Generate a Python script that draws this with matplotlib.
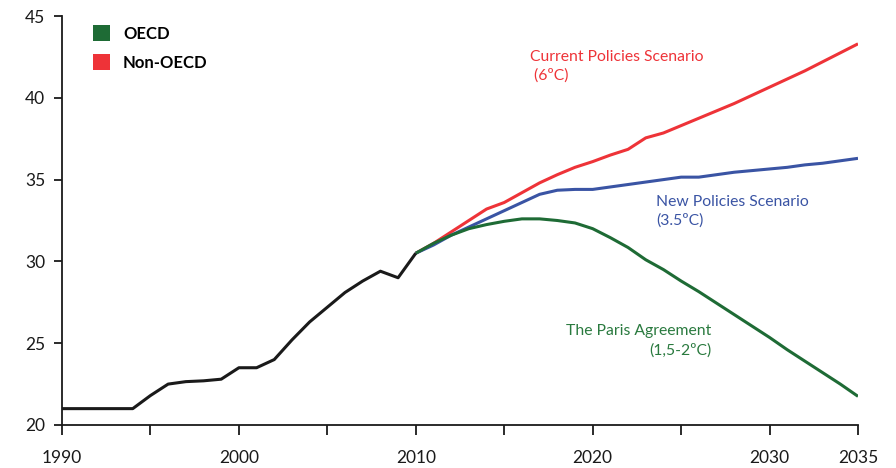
import matplotlib
matplotlib.use("Agg")
import matplotlib.pyplot as plt
from matplotlib.patches import Patch

plt.rcParams['font.family'] = ['Lato', 'DejaVu Sans']

# historical emissions
hist_years = [1990, 1991, 1992, 1993, 1994, 1995, 1996, 1997, 1998, 1999, 2000,
              2001, 2002, 2003, 2004, 2005, 2006, 2007, 2008, 2009, 2010]
hist_vals = [21.0, 21.0, 21.0, 21.0, 21.0, 21.8, 22.5, 22.65, 22.7, 22.8, 23.5,
             23.5, 24.0, 25.2, 26.3, 27.2, 28.1, 28.8, 29.4, 29.0, 30.5]

# scenarios 2010-2035
proj_years = list(range(2010, 2036))
current_policies = [30.5, 31.1, 31.8, 32.5, 33.2, 33.6, 34.2, 34.8, 35.3, 35.75,
                    36.1, 36.5, 36.85, 37.55, 37.85, 38.3, 38.75, 39.2, 39.65, 40.15,
                    40.65, 41.15, 41.65, 42.2, 42.75, 43.3]
new_policies = [30.5, 31.0, 31.6, 32.1, 32.6, 33.1, 33.6, 34.1, 34.35, 34.4,
                34.4, 34.55, 34.7, 34.85, 35.0, 35.15, 35.15, 35.3, 35.45, 35.55,
                35.65, 35.75, 35.9, 36.0, 36.15, 36.3]
paris = [30.5, 31.1, 31.6, 32.0, 32.25, 32.45, 32.6, 32.6, 32.5, 32.35,
         32.0, 31.45, 30.85, 30.1, 29.5, 28.8, 28.15, 27.45, 26.75, 26.05,
         25.35, 24.6, 23.9, 23.2, 22.5, 21.75]

xtick_vals = [1990, 2000, 2010, 2020, 2030, 2035]
xtick_minor = [1995, 2005, 2015, 2025]
ytick_vals = [20, 25, 30, 35, 40, 45]

RED = '#ee3338'
BLUE = '#3a54a4'
GREEN = '#1e6b35'
GREEN_TXT = '#2a7a3f'

fig = plt.figure(figsize=(8.96, 4.68), dpi=100)
ax = fig.add_axes([0.0692, 0.0919, 0.8884, 0.8739])

ax.plot(proj_years, current_policies, color=RED, lw=2.2, solid_capstyle='butt')
ax.plot(proj_years, new_policies, color=BLUE, lw=2.2, solid_capstyle='butt')
ax.plot(proj_years, paris, color=GREEN, lw=2.2, solid_capstyle='butt')
ax.plot(hist_years, hist_vals, color='#1a1a1a', lw=2.2, solid_capstyle='butt')

ax.set_xlim(1990, 2035)
ax.set_ylim(20, 45)
ax.set_xticks(xtick_vals)
ax.set_xticks(xtick_minor, minor=True)
ax.set_yticks(ytick_vals)
ax.tick_params(axis='x', which='both', direction='out', length=7, width=1.3,
               pad=11, labelsize=12.5, colors='#1a1a1a')
ax.tick_params(axis='y', direction='out', length=6, width=1.3, pad=6,
               labelsize=12.5, colors='#1a1a1a')
for s in ['top', 'right']:
    ax.spines[s].set_visible(False)
for s in ['left', 'bottom']:
    ax.spines[s].set_linewidth(1.3)
    ax.spines[s].set_color('#1a1a1a')

fs = 11.3
ax.text(2016.45, 42.5, 'Current Policies Scenario', color=RED, fontsize=fs,
        va='center', ha='left')
ax.text(2016.45, 41.33, ' (6ºC)', color=RED, fontsize=fs, va='center', ha='left')
ax.text(2023.6, 33.63, 'New Policies Scenario', color=BLUE, fontsize=fs,
        va='center', ha='left')
ax.text(2023.6, 32.47, '(3.5ºC)', color=BLUE, fontsize=fs, va='center', ha='left')
ax.text(2026.7, 25.75, 'The Paris Agreement', color=GREEN_TXT, fontsize=fs,
        va='center', ha='right')
ax.text(2026.7, 24.55, '(1,5-2ºC)', color=GREEN_TXT, fontsize=fs,
        va='center', ha='right')

handles = [Patch(facecolor=GREEN, label='OECD'),
           Patch(facecolor=RED, label='Non-OECD')]
leg = ax.legend(handles=handles, loc='upper left', bbox_to_anchor=(0.02, 1.015),
                frameon=False, handlelength=1.0, handleheight=1.1,
                handletextpad=0.8, labelspacing=0.75,
                prop={'weight': 'bold', 'size': 12})

fig.savefig('out.png', dpi=100)
